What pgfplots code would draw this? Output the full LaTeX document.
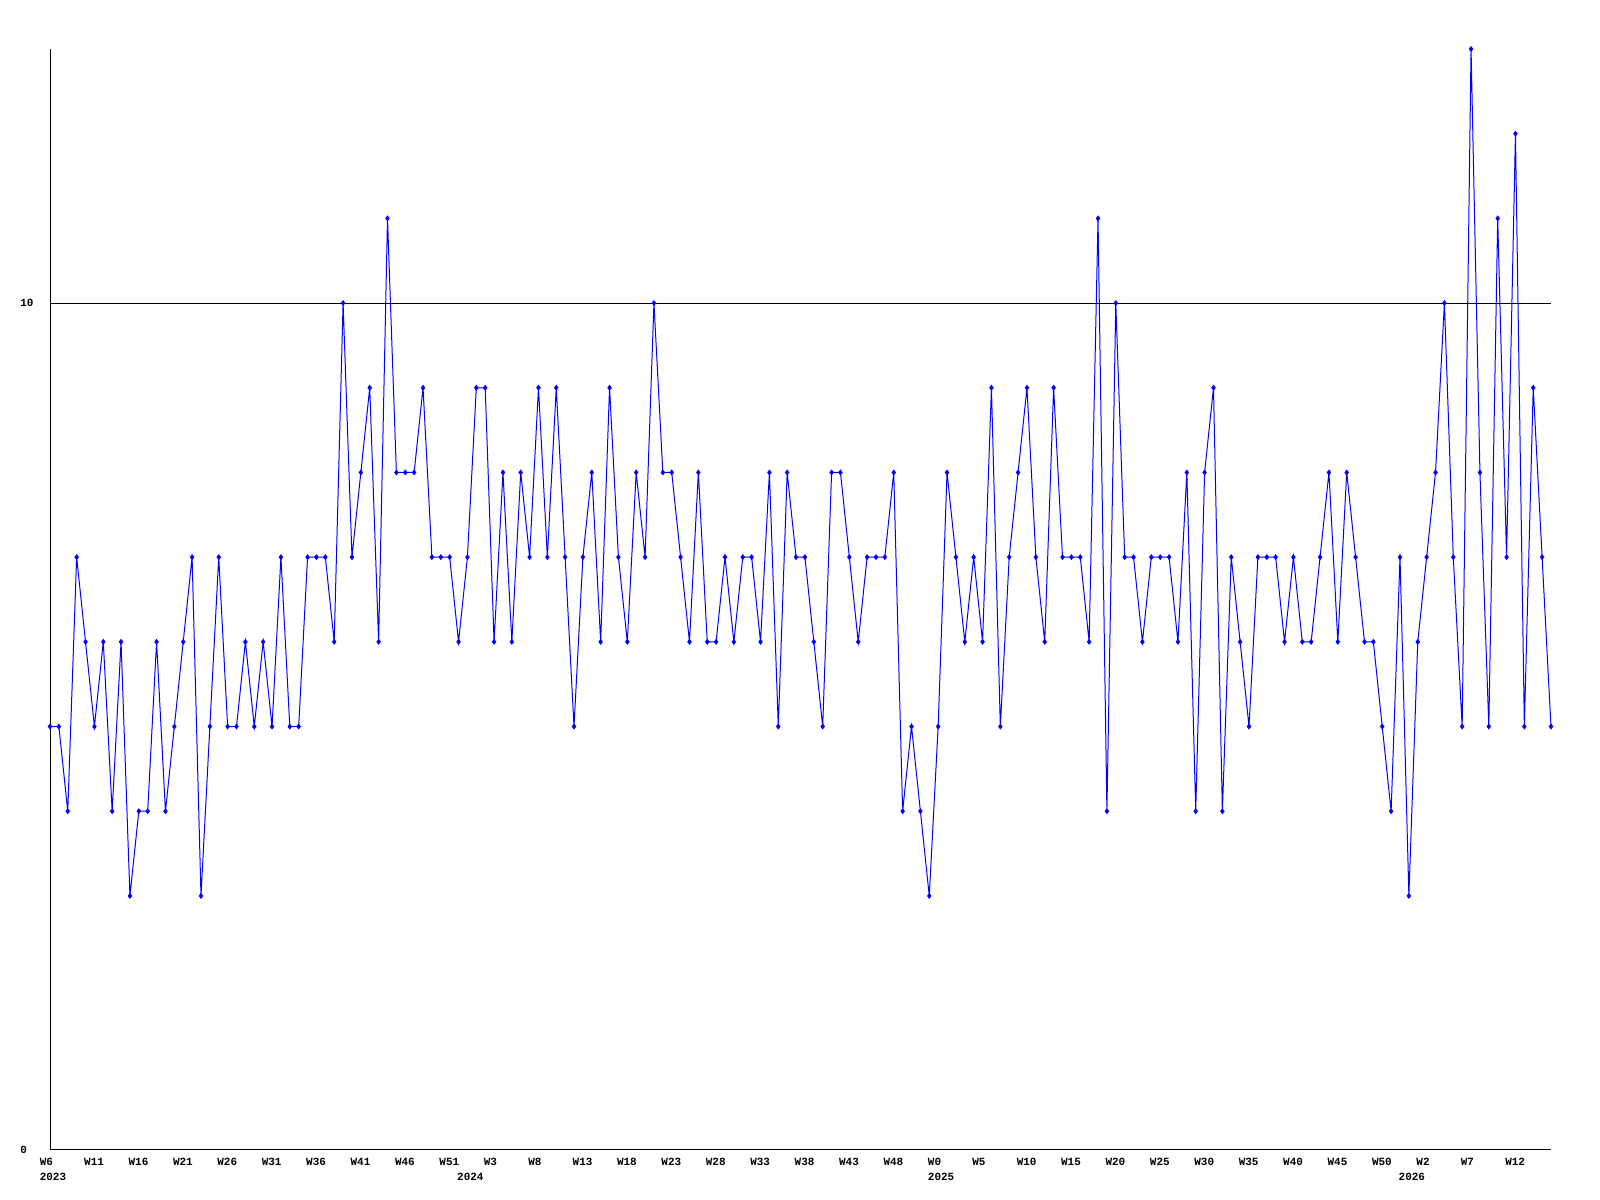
\documentclass[border=0pt]{standalone}
\usepackage{fontspec}
\setmainfont{Liberation Mono}
\usepackage{pgfplots}
\pgfplotsset{compat=1.18}
\begin{document}
\begin{tikzpicture}
\fill[white] (0,0) rectangle (400mm,300mm);
\useasboundingbox (0,0) rectangle (400mm,300mm);
\begin{axis}[
  at={(12.5mm,12.5mm)}, anchor=south west,
  scale only axis, width=375.25mm, height=275.25mm,
  xmin=0, xmax=169, ymin=0, ymax=13,
  clip=false,
  axis lines=left,
  axis line style={-, line width=0.25mm, black},
  major tick length=0pt,
  ytick={0,10},
  ymajorgrids, grid style={black, line width=0.25mm},
  xtick={0,5,...,165},
  xticklabels={W6,W11,W16,W21,W26,W31,W36,W41,W46,W51,W3,W8,W13,W18,W23,W28,W33,W38,W43,W48,W0,W5,W10,W15,W20,W25,W30,W35,W40,W45,W50,W2,W7,W12},
  extra x ticks={0,47,100,153},
  extra x tick labels={2023,2024,2025,2026},
  extra x tick style={grid=none, major tick length=0pt, xticklabel style={yshift=-3.75mm}},
  /pgf/number format/assume math mode=true,
  ticklabel style={font=\bfseries\fontsize{7.8}{9}\selectfont, inner sep=0pt},
  xticklabel style={anchor=north west, xshift=-2.625mm, yshift=-2mm},
  yticklabel style={anchor=west, xshift=-7.5mm},
]
\addplot[color={rgb,255:red,0;green,0;blue,255}, line width=0.25mm, mark=diamond*, mark size=0.55mm] coordinates {
(0,5)(1,5)(2,4)(3,7)(4,6)(5,5)(6,6)(7,4)(8,6)(9,3)
(10,4)(11,4)(12,6)(13,4)(14,5)(15,6)(16,7)(17,3)(18,5)(19,7)
(20,5)(21,5)(22,6)(23,5)(24,6)(25,5)(26,7)(27,5)(28,5)(29,7)
(30,7)(31,7)(32,6)(33,10)(34,7)(35,8)(36,9)(37,6)(38,11)(39,8)
(40,8)(41,8)(42,9)(43,7)(44,7)(45,7)(46,6)(47,7)(48,9)(49,9)
(50,6)(51,8)(52,6)(53,8)(54,7)(55,9)(56,7)(57,9)(58,7)(59,5)
(60,7)(61,8)(62,6)(63,9)(64,7)(65,6)(66,8)(67,7)(68,10)(69,8)
(70,8)(71,7)(72,6)(73,8)(74,6)(75,6)(76,7)(77,6)(78,7)(79,7)
(80,6)(81,8)(82,5)(83,8)(84,7)(85,7)(86,6)(87,5)(88,8)(89,8)
(90,7)(91,6)(92,7)(93,7)(94,7)(95,8)(96,4)(97,5)(98,4)(99,3)
(100,5)(101,8)(102,7)(103,6)(104,7)(105,6)(106,9)(107,5)(108,7)(109,8)
(110,9)(111,7)(112,6)(113,9)(114,7)(115,7)(116,7)(117,6)(118,11)(119,4)
(120,10)(121,7)(122,7)(123,6)(124,7)(125,7)(126,7)(127,6)(128,8)(129,4)
(130,8)(131,9)(132,4)(133,7)(134,6)(135,5)(136,7)(137,7)(138,7)(139,6)
(140,7)(141,6)(142,6)(143,7)(144,8)(145,6)(146,8)(147,7)(148,6)(149,6)
(150,5)(151,4)(152,7)(153,3)(154,6)(155,7)(156,8)(157,10)(158,7)(159,5)
(160,13)(161,8)(162,5)(163,11)(164,7)(165,12)(166,5)(167,9)(168,7)(169,5)
};
\end{axis}
\end{tikzpicture}
\end{document}
